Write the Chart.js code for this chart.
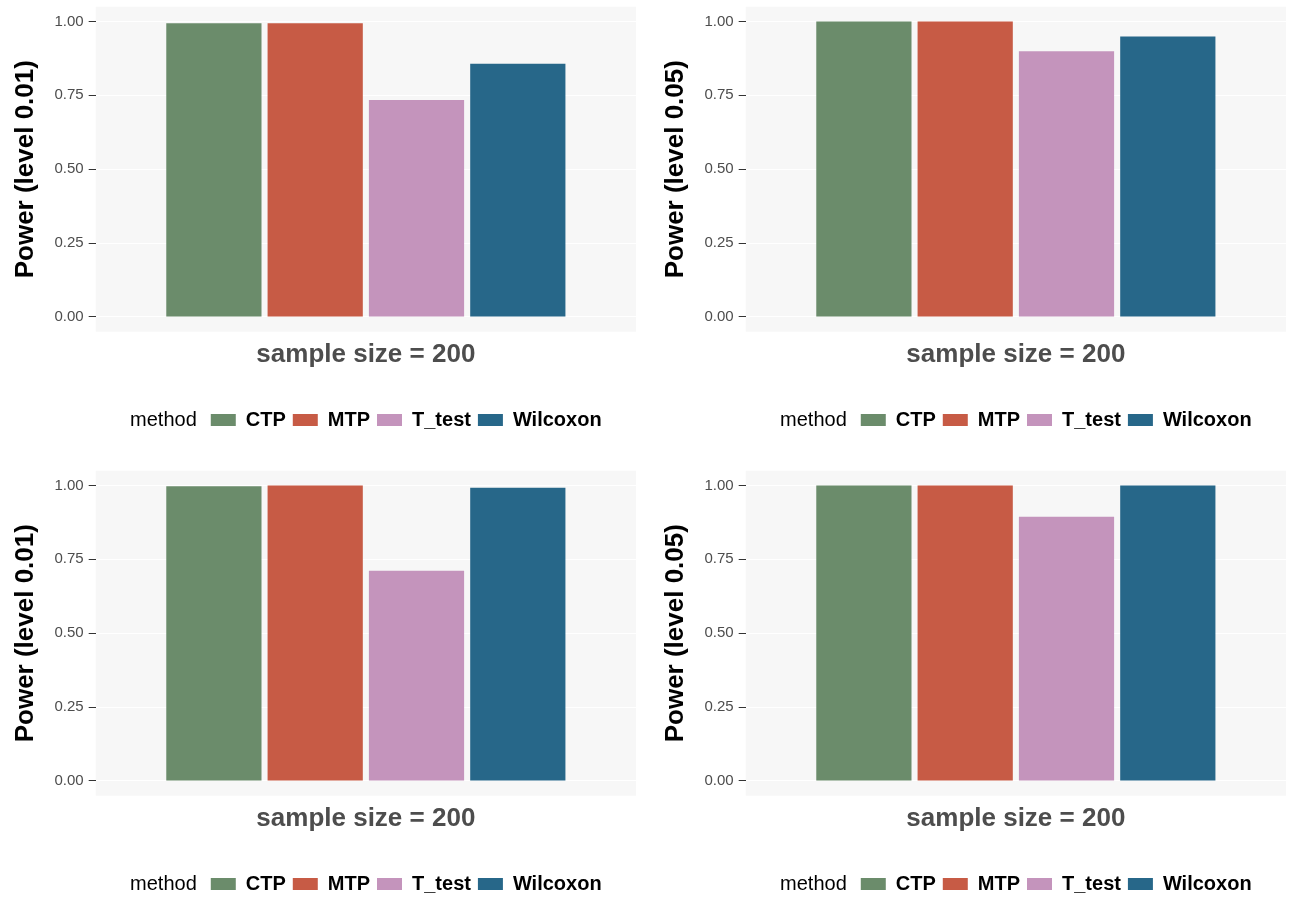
<!DOCTYPE html>
<html>
<head>
<meta charset="utf-8">
<script src="https://cdn.jsdelivr.net/npm/chart.js@4"></script>
<style>
html, body { margin: 0; padding: 0; background: #ffffff; overflow: hidden; }
.panel { position: absolute; width: 645px; height: 440px; }
</style>
</head>
<body>
<div class="panel" style="left:0px;top:0px"><canvas id="c1" width="645" height="440"></canvas></div>
<div class="panel" style="left:650px;top:0px"><canvas id="c2" width="645" height="440"></canvas></div>
<div class="panel" style="left:0px;top:464px"><canvas id="c3" width="645" height="440"></canvas></div>
<div class="panel" style="left:650px;top:464px"><canvas id="c4" width="645" height="440"></canvas></div>
<script>
// ---- data ----
const methods = ['CTP', 'MTP', 'T_test', 'Wilcoxon'];
const methodColors = ['#6b8c6b', '#c75b45', '#c494bc', '#276789'];
const sampleSize = 200;
const yTickValues = [0, 0.25, 0.5, 0.75, 1];
const legendTitle = 'method';

const powerTopLeft = [0.994, 0.994, 0.734, 0.857];      // level 0.01
const powerTopRight = [1.0, 1.0, 0.899, 0.949];         // level 0.05
const powerBottomLeft = [0.997, 1.0, 0.711, 0.992];     // level 0.01
const powerBottomRight = [1.0, 1.0, 0.894, 1.0];        // level 0.05

const levelTopLeft = '0.01';
const levelTopRight = '0.05';
const levelBottomLeft = '0.01';
const levelBottomRight = '0.05';

// ---- styling ----
const FONT = "'Liberation Sans', Arial, Helvetica, sans-serif";
const PANEL_BG = '#f7f7f7';

const panelBgPlugin = {
  id: 'panelBg',
  beforeDraw(chart) {
    const a = chart.chartArea;
    const ctx = chart.ctx;
    ctx.save();
    ctx.fillStyle = PANEL_BG;
    ctx.fillRect(a.left, a.top, a.right - a.left, a.bottom - a.top);
    ctx.restore();
  }
};

const legendPlacePlugin = {
  id: 'legendPlace',
  afterLayout(chart) {
    const lg = chart.legend;
    if (!lg || !lg.lineWidths) return;
    const pad = lg.options.labels.padding;
    const ctx = chart.ctx;
    ctx.save();
    ctx.font = '20px ' + FONT;
    const mw = ctx.measureText(legendTitle).width;
    ctx.restore();
    const gap = 14;
    const itemsW = lg.lineWidths[0] - pad;
    const total = mw + gap + itemsW;
    const center = (chart.chartArea.left + chart.chartArea.right) / 2;
    const start = center - total / 2;
    const itemsStart = start + mw + gap;
    lg.left = itemsStart - pad;
    lg._methodX = itemsStart - gap;
  },
  afterDraw(chart) {
    const lg = chart.legend;
    if (!lg) return;
    const pad = lg.options.labels.padding;
    const ctx = chart.ctx;
    ctx.save();
    ctx.font = '20px ' + FONT;
    ctx.fillStyle = '#000000';
    ctx.textAlign = 'right';
    ctx.textBaseline = 'middle';
    ctx.fillText(legendTitle, lg._methodX, lg.top + pad + 10);
    ctx.restore();
  }
};

function makeChart(id, values, level) {
  const datasets = methods.map((m, i) => ({
    label: m,
    data: [values[i]],
    backgroundColor: methodColors[i],
    borderWidth: 0,
    barPercentage: 0.94,
    categoryPercentage: 0.75
  }));
  return new Chart(document.getElementById(id), {
    type: 'bar',
    data: { labels: [String(sampleSize)], datasets },
    options: {
      responsive: false,
      animation: false,
      devicePixelRatio: 1,
      layout: { padding: { top: 6.7, right: 9, bottom: 0, left: 0 }, autoPadding: false },
      plugins: {
        tooltip: { enabled: false },
        legend: {
          display: true,
          position: 'bottom',
          align: 'start',
          labels: {
            boxWidth: 25,
            boxHeight: 12,
            padding: 7,
            color: '#000000',
            font: { family: FONT, size: 20, weight: 'bold' }
          }
        }
      },
      scales: {
        x: {
          type: 'category',
          offset: true,
          ticks: { display: false },
          grid: { display: false, drawTicks: false },
          border: { display: false },
          title: {
            display: true,
            text: 'sample size = ' + sampleSize,
            color: '#4d4d4d',
            font: { family: FONT, size: 26, weight: 'bold' },
            padding: { top: 0, bottom: 32.4 }
          },
          afterFit(s) { s.height = 71.3; s.paddingLeft = 0; s.paddingRight = 0; }
        },
        y: {
          min: -0.05,
          max: 1.05,
          afterBuildTicks(s) { s.ticks = yTickValues.map(v => ({ value: v })); },
          ticks: {
            callback: (v) => Number(v).toFixed(2),
            color: '#4d4d4d',
            font: { family: FONT, size: 15 },
            padding: 5
          },
          grid: { color: '#ffffff', lineWidth: 1, tickColor: '#333333', tickLength: 7, drawTicks: true },
          border: { display: false },
          title: {
            display: true,
            text: 'Power (level ' + level + ')',
            color: '#000000',
            font: { family: FONT, size: 26, weight: 'bold' },
            padding: { top: 10, bottom: 0 }
          },
          afterFit(s) { s.width = 95.7; s.paddingTop = 0; s.paddingBottom = 0; }
        }
      }
    },
    plugins: [panelBgPlugin, legendPlacePlugin]
  });
}

makeChart('c1', powerTopLeft, levelTopLeft);
makeChart('c2', powerTopRight, levelTopRight);
makeChart('c3', powerBottomLeft, levelBottomLeft);
makeChart('c4', powerBottomRight, levelBottomRight);
</script>
</body>
</html>
